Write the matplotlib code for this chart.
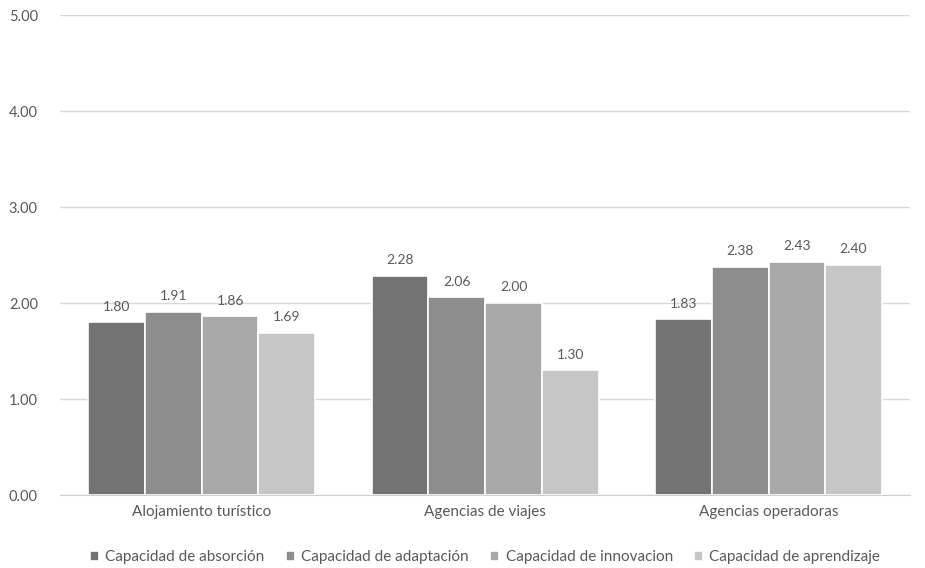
"""
Capacidades dinámicas por tipo de empresa turística
"""

import matplotlib.pyplot as plt
import numpy as np

plt.rcParams["font.family"] = ["Lato", "DejaVu Sans"]

CATEGORIES = ["Alojamiento turístico", "Agencias de viajes", "Agencias operadoras"]
SERIES = [
    "Capacidad de absorción",
    "Capacidad de adaptación",
    "Capacidad de innovacion",
    "Capacidad de aprendizaje",
]
absorcion = [1.80, 2.28, 1.83]
adaptacion = [1.91, 2.06, 2.38]
innovacion = [1.86, 2.00, 2.43]
aprendizaje = [1.69, 1.30, 2.40]
Y_TICKS = [0, 1, 2, 3, 4, 5]

COLOR_LIST = ["#737373", "#8d8d8d", "#a8a8a8", "#c6c6c6"]
TEXT_COLOR = "#595959"

fig = plt.figure(figsize=(9.25, 5.68), dpi=100)
axes = fig.add_axes([0.065, 0.1285, 0.919, 0.845])

x = np.arange(len(CATEGORIES))
bar_w = 0.2
values = [absorcion, adaptacion, innovacion, aprendizaje]

for idx, (name, vals) in enumerate(zip(SERIES, values)):
    pos = x + (idx - 1.5) * bar_w
    bars = axes.bar(
        pos,
        vals,
        width=bar_w,
        color=COLOR_LIST[idx],
        edgecolor="white",
        linewidth=1.2,
        label=name,
        zorder=3,
    )
    for b, v in zip(bars, vals):
        axes.annotate(
            f"{v:.2f}",
            (b.get_x() + b.get_width() / 2, v),
            xytext=(0, 7),
            textcoords="offset points",
            ha="center",
            va="bottom",
            fontsize=10,
            color=TEXT_COLOR,
        )

axes.set_xlim(-0.5, 2.5)
axes.set_ylim(0, 5)
axes.set_yticks(Y_TICKS)
axes.set_yticklabels([f"{t:.2f}" for t in Y_TICKS])
axes.set_xticks(x)
axes.set_xticklabels(CATEGORIES)

# light gridlines, no frame except the base line
axes.grid(axis="y", color="#d9d9d9", linewidth=1, zorder=0)
for side in ["top", "right", "left"]:
    axes.spines[side].set_visible(False)
axes.spines["bottom"].set_color("#d0d0d0")
axes.tick_params(axis="both", length=0, colors=TEXT_COLOR, labelsize=10.5)
axes.tick_params(axis="y", pad=16)
axes.tick_params(axis="x", pad=7, labelsize=11)

axes.legend(
    loc="center",
    bbox_to_anchor=(0.5, -0.13),
    ncol=4,
    frameon=False,
    fontsize=11,
    handlelength=0.6,
    handleheight=0.6,
    handletextpad=0.4,
    columnspacing=1.4,
    labelcolor=TEXT_COLOR,
)

plt.savefig("out.png", dpi=100)
